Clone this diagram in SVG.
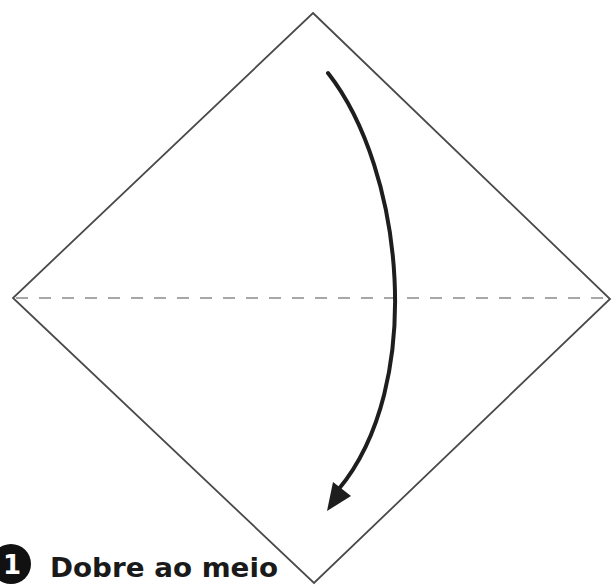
<svg xmlns="http://www.w3.org/2000/svg" width="615" height="587" viewBox="0 0 615 587">
<defs>
<style>
.edge{fill:#fff;stroke:#4a4a4a;stroke-width:1.8;stroke-linejoin:miter}
.fold{stroke:#8a8a8a;stroke-width:1.6;stroke-dasharray:12 11;fill:none}
.arrow{fill:none;stroke:#1e1e1e;stroke-width:4;stroke-linecap:round}
.lbl{font-family:"DejaVu Sans",sans-serif;font-weight:bold;font-size:27px;fill:#1a1a1a}
</style>
</defs>
<rect width="615" height="587" fill="#fff"/>
<g id="paper">
<polygon class="edge" points="313,13 610,299 314,583 13,298"/>
</g>
<g id="connectors">
<line class="fold" x1="16" y1="298" x2="607" y2="298"/>
<path class="arrow" d="M328,73 C404,170 426,385 338,490"/>
<polygon points="327,511 333,482 351,496" fill="#1e1e1e"/>
</g>
<g id="step-label">
<circle cx="11" cy="564" r="20" fill="#111"/>
<text x="12" y="574" font-family="DejaVu Sans,sans-serif" font-weight="bold" font-size="26" fill="#fff" text-anchor="middle">1</text>
<text class="lbl" x="50" y="577" textLength="228" lengthAdjust="spacingAndGlyphs">Dobre ao meio</text>
</g>
</svg>
